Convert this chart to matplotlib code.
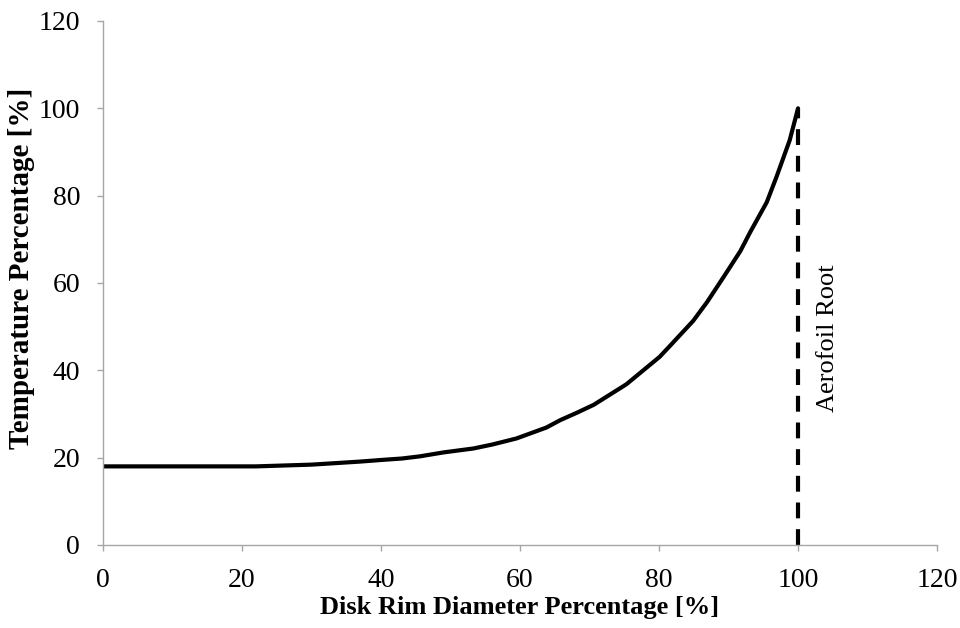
import matplotlib.pyplot as plt

# Curve
diameter = [0, 10, 20, 22, 26, 30, 33, 37, 40.3, 43, 45.6, 49, 53.3, 56, 59.5, 63.8, 65.8,
            68.2, 70.6, 75.3, 80.1, 82.1, 84.9, 86.9, 89.3, 91.7, 93.1, 95.5, 96.9, 98.8, 100]
temperature = [18, 18, 18, 18, 18.2, 18.4, 18.7, 19.1, 19.5, 19.8, 20.3, 21.2, 22.1, 23, 24.4,
               26.9, 28.6, 30.3, 32.1, 36.8, 43.1, 46.5, 51.3, 55.6, 61.4, 67.3, 71.6, 78.5,
               84.3, 92.7, 100]

root_x = 100
root_label = 'Aerofoil Root'

xticks = [0, 20, 40, 60, 80, 100, 120]
yticks = [0, 20, 40, 60, 80, 100, 120]

plt.rcParams['font.family'] = ['Liberation Serif', 'DejaVu Serif']

fig = plt.figure(figsize=(9.6, 6.28), dpi=100)
ax = fig.add_axes([0.1073, 0.1322, 0.8688, 0.8344])

ax.plot(diameter, temperature, color='black', linewidth=3,
        solid_capstyle='round', solid_joinstyle='round')
ax.plot([root_x, root_x], [0, temperature[-1]], color='black', linewidth=3,
        dashes=(3.8, 2.6))
ax.text(104.3, 47.4, root_label, rotation=90, ha='center', va='center', fontsize=19)

ax.set_xlim(0, 120)
ax.set_ylim(0, 120)
ax.set_xticks(xticks)
ax.set_yticks(yticks)
ax.tick_params(labelsize=20, color='#a6a6a6', length=4.5, width=1, direction='out')
ax.tick_params(axis='x', pad=12)
ax.tick_params(axis='y', pad=12)

for side in ['top', 'right']:
    ax.spines[side].set_visible(False)
for side in ['left', 'bottom']:
    ax.spines[side].set_color('#a6a6a6')
    ax.spines[side].set_linewidth(1)

ax.set_xlabel('Disk Rim Diameter Percentage [%]', fontsize=19, fontweight='bold')
ax.set_ylabel('Temperature Percentage [%]', fontsize=21, fontweight='bold')
ax.xaxis.set_label_coords(0.5, -0.097)
ax.yaxis.set_label_coords(-0.082, 0.527)

fig.savefig('out.png', dpi=100)
